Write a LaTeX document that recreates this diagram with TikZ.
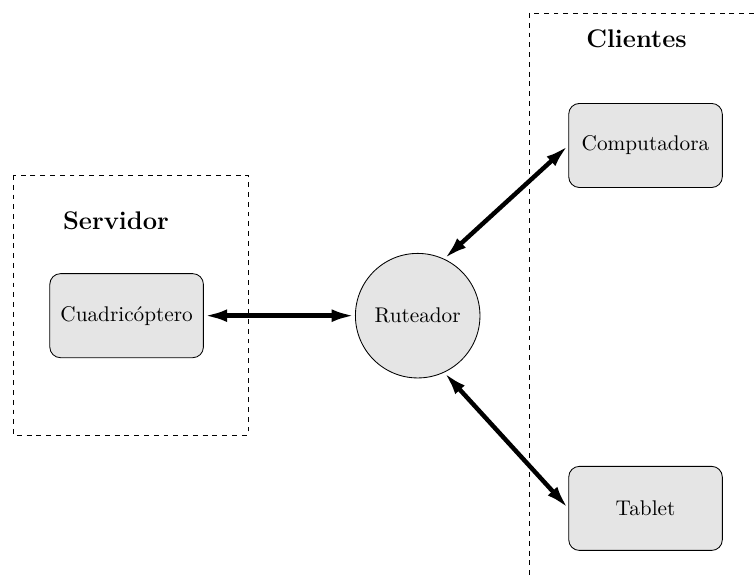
\documentclass[tikz,border=0pt]{standalone}
\usetikzlibrary{arrows.meta,positioning}

\begin{document}
\begin{tikzpicture}[
  node distance=2.5cm,
  caja/.style={draw, rounded corners=5pt, fill=gray!20, align=center,
               minimum width=2.54cm, minimum height=1.39cm},
  ruta/.style={draw, circle, fill=gray!20, minimum size=2.06cm, inner sep=0pt},
  grupo/.style={draw, dash pattern=on 2.3pt off 2.3pt},
  titulo/.style={font=\large\bfseries},
  flecha/.style={{Latex[length=11pt,width=6pt]}-{Latex[length=11pt,width=6pt]},
                 line width=2.1pt}
]
\clip (0,0) rectangle (12.47,-9.51);

% grupos
\draw[grupo] (0.215,-2.894) rectangle (4.102,-7.194);
\draw[grupo] (8.749,-0.215) rectangle (13.5,-10.5);
\node[titulo] (servidor) at (1.918,-3.647) {Servidor};
\node[titulo] (clientes) at (10.527,-0.645) {Clientes};

% nodos
\node[ruta] (ruteador) at (6.908,-5.221) {Ruteador};
\node[caja, left=of ruteador] (cuadri) {Cuadricóptero};
\node[caja] (compu) at (10.676,-2.406) {Computadora};
\node[caja, below=4.598cm of compu] (tablet) {Tablet};

% conexiones
\draw[flecha] (cuadri.east) -- (ruteador.west);
\draw[flecha] (ruteador.65) -- (compu.west);
\draw[flecha] (ruteador.-65) -- (tablet.west);
\end{tikzpicture}
\end{document}
